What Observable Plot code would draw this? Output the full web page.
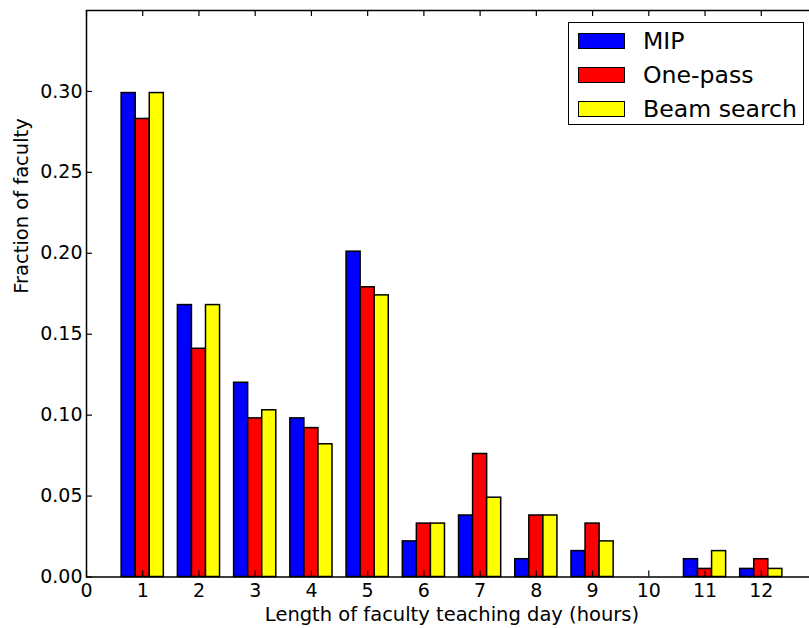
<!DOCTYPE html>
<html>
<head>
<meta charset="utf-8">
<script src="https://cdn.jsdelivr.net/npm/d3@7"></script>
<script src="https://cdn.jsdelivr.net/npm/@observablehq/plot@0.6"></script>
<style>
  html, body { margin: 0; padding: 0; background: #fff; overflow: hidden; }
  #wrap { position: relative; width: 809px; height: 628px; overflow: hidden; font-family: "DejaVu Sans", sans-serif; }
  #chart svg { max-width: none !important; }
  #legend { position: absolute; left: 568px; top: 22px; width: 234px; height: 101px; border: 1.5px solid #000; background: #fff; box-sizing: content-box; }
  .row { position: absolute; left: 0; height: 34px; }
  .sw { position: absolute; left: 9px; width: 45px; height: 14px; border: 1.2px solid #000; }
  .lbl { position: absolute; left: 74px; font-size: 23.6px; line-height: 23px; white-space: nowrap; color: #000; }
</style>
</head>
<body>
<div id="wrap"><div id="chart"></div><div id="legend"></div></div>
<script>
// Data
const hours = [1, 2, 3, 4, 5, 6, 7, 8, 9, 10, 11, 12];
const seriesNames = ["MIP", "One-pass", "Beam search"];
const seriesColors = ["#0000ff", "#ff0000", "#ffff00"];
const mip      = [0.299, 0.168, 0.120, 0.098, 0.201, 0.022, 0.038, 0.011, 0.016, 0, 0.011, 0.005];
const onePass  = [0.283, 0.141, 0.098, 0.092, 0.179, 0.033, 0.076, 0.038, 0.033, 0, 0.005, 0.011];
const beam     = [0.299, 0.168, 0.103, 0.082, 0.174, 0.033, 0.049, 0.038, 0.022, 0, 0.016, 0.005];
const xTickValues = [0, 1, 2, 3, 4, 5, 6, 7, 8, 9, 10, 11, 12];
const yTickValues = [0, 0.05, 0.10, 0.15, 0.20, 0.25, 0.30];

const seriesValues = [mip, onePass, beam];
const barWidth = 0.25;
const rows = [];
seriesValues.forEach((vals, si) => {
  vals.forEach((v, i) => {
    const x0 = hours[i] - 1.5 * barWidth + si * barWidth;
    rows.push({series: seriesNames[si], x1: x0, x2: x0 + barWidth, value: v});
  });
});

const W = 818, H = 628, mL = 86, mR = 1, mT = 10, mB = 51.5;
const fw = W - mL - mR, fh = H - mT - mB, tick = 6;

const chart = Plot.plot({
  width: W, height: H,
  marginLeft: mL, marginRight: mR, marginTop: mT, marginBottom: mB,
  style: {fontFamily: "DejaVu Sans, sans-serif", fontSize: "19px", color: "#000", background: "#fff", overflow: "visible", maxWidth: "none"},
  x: {domain: [0, 13]},
  y: {domain: [0, 0.35]},
  color: {domain: seriesNames, range: seriesColors},
  marks: [
    Plot.rect(rows, {x1: "x1", x2: "x2", y1: 0, y2: "value", fill: "series", stroke: "#000", strokeWidth: 1.5}),
    Plot.frame({stroke: "#000", strokeWidth: 1.5}),
    Plot.ruleX(xTickValues, {x: d => d, insetTop: fh - tick, stroke: "#000", strokeWidth: 1.2}),
    Plot.ruleX(xTickValues, {x: d => d, insetBottom: fh - tick, stroke: "#000", strokeWidth: 1.2}),
    Plot.ruleY(yTickValues, {y: d => d, insetRight: fw - tick, stroke: "#000", strokeWidth: 1.2}),
    Plot.ruleY(yTickValues, {y: d => d, insetLeft: fw - tick, stroke: "#000", strokeWidth: 1.2}),
    Plot.axisX(xTickValues, {tickSize: 0, tickPadding: 6, label: null, fontSize: 19}),
    Plot.axisY(yTickValues, {tickSize: 0, tickPadding: 4, label: null, fontSize: 19, tickFormat: d3.format(".2f")}),
    Plot.text(["Length of faculty teaching day (hours)"], {frameAnchor: "bottom", lineAnchor: "bottom", dy: 43.5, fontSize: 19.5, text: d => d, fill: "#000"}),
    Plot.text(["Fraction of faculty"], {frameAnchor: "left", lineAnchor: "bottom", rotate: -90, dx: -59, fontSize: 19.5, text: d => d, fill: "#000"})
  ]
});
document.getElementById("chart").appendChild(chart);

// Legend
const legend = document.getElementById("legend");
seriesNames.forEach((name, i) => {
  const row = document.createElement("div");
  row.className = "row";
  row.style.top = (1 + i * 34) + "px";
  row.style.width = "234px";
  const sw = document.createElement("div");
  sw.className = "sw";
  sw.style.background = seriesColors[i];
  sw.style.top = "9px";
  const lb = document.createElement("div");
  lb.className = "lbl";
  lb.style.top = "6px";
  lb.textContent = name;
  row.appendChild(sw);
  row.appendChild(lb);
  legend.appendChild(row);
});
</script>
</body>
</html>
